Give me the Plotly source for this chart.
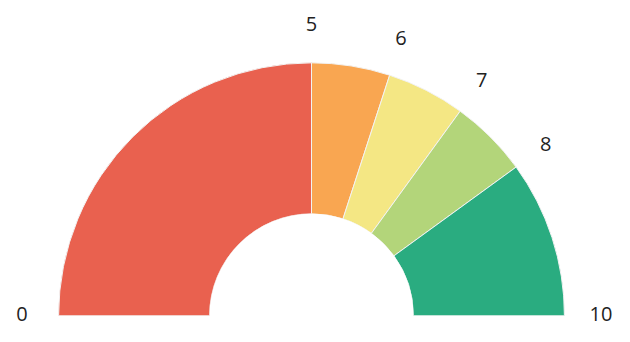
import plotly.graph_objects as go

# Gauge bands (value ranges on a 0-10 scale)
band_starts = [0, 5, 6, 7, 8]
band_ends = [5, 6, 7, 8, 10]
band_colors = ["#E9614F", "#F9A651", "#F4E784", "#B3D57A", "#2AAC80"]
tick_values = [0, 5, 6, 7, 8, 10]
tick_labels = ["0", "5", "6", "7", "8", "10"]
scale_max = 10

deg = lambda v: v * 180.0 / scale_max

fig = go.Figure()
fig.add_trace(go.Barpolar(
    r=[0.805] * len(band_starts),
    theta=[deg((a + b) / 2) for a, b in zip(band_starts, band_ends)],
    width=[deg(b - a) for a, b in zip(band_starts, band_ends)],
    marker=dict(color=band_colors, line=dict(color="#f2f2f2", width=1)),
    hoverinfo="skip",
    showlegend=False,
))
fig.add_trace(go.Scatterpolar(
    r=[1.0] * len(tick_values),
    theta=[deg(v) for v in tick_values],
    text=tick_labels,
    mode="text",
    textposition="middle center",
    textfont=dict(family="Open Sans", size=20, color="#222222"),
    hoverinfo="skip",
    showlegend=False,
))
fig.update_layout(
    width=630, height=342,
    margin=dict(l=22, r=29, t=26, b=26),
    paper_bgcolor="white",
    polar=dict(
        bgcolor="white",
        sector=[0, 180],
        hole=0.352,
        bargap=0,
        radialaxis=dict(range=[0, 1], visible=False, showgrid=False),
        angularaxis=dict(direction="clockwise", rotation=180, visible=False,
                         showgrid=False, thetaunit="degrees"),
    ),
)
fig.write_html("out.html")
